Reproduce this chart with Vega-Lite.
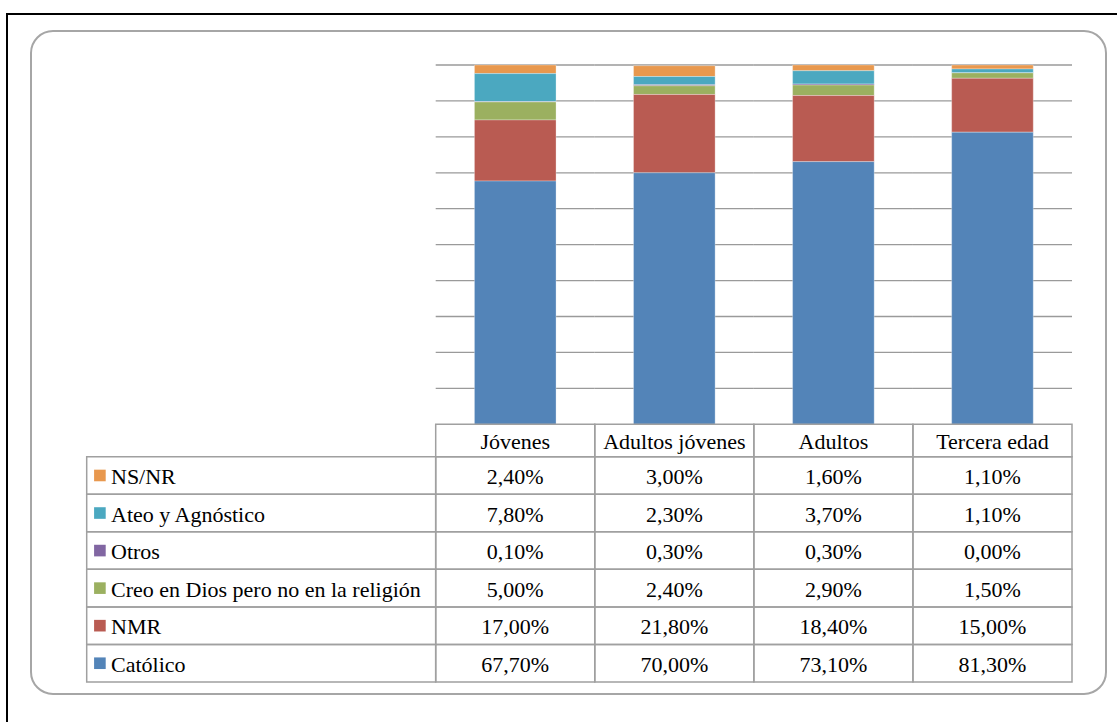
{
  "$schema": "https://vega.github.io/schema/vega-lite/v6.json",
  "width": 1117,
  "height": 722,
  "padding": 0,
  "autosize": {"type": "none"},
  "background": "white",
  "config": {
    "view": {"stroke": null},
    "locale": {"number": {"decimal": ",", "thousands": ".", "grouping": [3], "currency": ["", " €"]}}
  },
  "datasets": {
    "datos": [
      {"grupo": "Jóvenes", "serie": "NS/NR", "v": 0.024, "k": 6},
      {"grupo": "Jóvenes", "serie": "Ateo y Agnóstico", "v": 0.078, "k": 5},
      {"grupo": "Jóvenes", "serie": "Otros", "v": 0.001, "k": 4},
      {"grupo": "Jóvenes", "serie": "Creo en Dios pero no en la religión", "v": 0.05, "k": 3},
      {"grupo": "Jóvenes", "serie": "NMR", "v": 0.17, "k": 2},
      {"grupo": "Jóvenes", "serie": "Católico", "v": 0.677, "k": 1},
      {"grupo": "Adultos jóvenes", "serie": "NS/NR", "v": 0.03, "k": 6},
      {"grupo": "Adultos jóvenes", "serie": "Ateo y Agnóstico", "v": 0.023, "k": 5},
      {"grupo": "Adultos jóvenes", "serie": "Otros", "v": 0.003, "k": 4},
      {"grupo": "Adultos jóvenes", "serie": "Creo en Dios pero no en la religión", "v": 0.024, "k": 3},
      {"grupo": "Adultos jóvenes", "serie": "NMR", "v": 0.218, "k": 2},
      {"grupo": "Adultos jóvenes", "serie": "Católico", "v": 0.70, "k": 1},
      {"grupo": "Adultos", "serie": "NS/NR", "v": 0.016, "k": 6},
      {"grupo": "Adultos", "serie": "Ateo y Agnóstico", "v": 0.037, "k": 5},
      {"grupo": "Adultos", "serie": "Otros", "v": 0.003, "k": 4},
      {"grupo": "Adultos", "serie": "Creo en Dios pero no en la religión", "v": 0.029, "k": 3},
      {"grupo": "Adultos", "serie": "NMR", "v": 0.184, "k": 2},
      {"grupo": "Adultos", "serie": "Católico", "v": 0.731, "k": 1},
      {"grupo": "Tercera edad", "serie": "NS/NR", "v": 0.011, "k": 6},
      {"grupo": "Tercera edad", "serie": "Ateo y Agnóstico", "v": 0.011, "k": 5},
      {"grupo": "Tercera edad", "serie": "Otros", "v": 0.0, "k": 4},
      {"grupo": "Tercera edad", "serie": "Creo en Dios pero no en la religión", "v": 0.015, "k": 3},
      {"grupo": "Tercera edad", "serie": "NMR", "v": 0.15, "k": 2},
      {"grupo": "Tercera edad", "serie": "Católico", "v": 0.813, "k": 1}
    ],
    "rejilla": [
      {"grupo": "Jóvenes", "p": [0.1, 0.2, 0.3, 0.4, 0.5, 0.6, 0.7, 0.8, 0.9, 1.0]},
      {"grupo": "Adultos jóvenes", "p": [0.1, 0.2, 0.3, 0.4, 0.5, 0.6, 0.7, 0.8, 0.9, 1.0]},
      {"grupo": "Adultos", "p": [0.1, 0.2, 0.3, 0.4, 0.5, 0.6, 0.7, 0.8, 0.9, 1.0]},
      {"grupo": "Tercera edad", "p": [0.1, 0.2, 0.3, 0.4, 0.5, 0.6, 0.7, 0.8, 0.9, 1.0]}
    ]
  },
  "layer": [
    {
      "data": {"values": [{}]},
      "mark": {"type": "rect", "filled": false, "stroke": "#000000", "strokeWidth": 2},
      "encoding": {
        "x": {"datum": 0, "type": "quantitative", "scale": {"domain": [0, 1], "range": [7, 1160], "nice": false}, "axis": null},
        "x2": {"datum": 1},
        "y": {"datum": 0, "type": "quantitative", "scale": {"domain": [0, 1], "range": [14, 760], "nice": false}, "axis": null},
        "y2": {"datum": 1}
      }
    },
    {
      "data": {"values": [{}]},
      "mark": {"type": "rect", "filled": false, "stroke": "#a6a6a6", "strokeWidth": 2, "cornerRadius": 22},
      "encoding": {
        "x": {"datum": 0, "type": "quantitative", "scale": {"domain": [0, 1], "range": [31, 1106], "nice": false}, "axis": null},
        "x2": {"datum": 1},
        "y": {"datum": 0, "type": "quantitative", "scale": {"domain": [0, 1], "range": [31, 694], "nice": false}, "axis": null},
        "y2": {"datum": 1}
      }
    },
    {
      "data": {"name": "datos"},
      "transform": [{"filter": "datum.grupo == 'Jóvenes'"}],
      "encoding": {
        "y": {
          "field": "serie", "type": "nominal",
          "scale": {"domain": ["NS/NR", "Ateo y Agnóstico", "Otros", "Creo en Dios pero no en la religión", "NMR", "Católico"], "range": [456.7, 682], "paddingInner": 0, "paddingOuter": 0},
          "axis": null
        }
      },
      "layer": [
        {
          "mark": {"type": "rect", "filled": false, "stroke": "#a0a0a0", "strokeWidth": 1.5},
          "encoding": {
            "x": {"datum": 0, "type": "quantitative", "scale": {"domain": [0, 1], "range": [86.7, 435.7], "nice": false}, "axis": null},
            "x2": {"datum": 1}
          }
        },
        {
          "mark": {"type": "square", "size": 135, "opacity": 1},
          "encoding": {
            "x": {"datum": 0.0378, "type": "quantitative"},
            "color": {
              "field": "serie", "type": "nominal",
              "scale": {"domain": ["NS/NR", "Ateo y Agnóstico", "Otros", "Creo en Dios pero no en la religión", "NMR", "Católico"], "range": ["#e8984e", "#4ba8c0", "#8166a2", "#9bb060", "#b95b52", "#5384b8"]},
              "legend": null
            }
          }
        },
        {
          "mark": {"type": "text", "align": "left", "baseline": "middle", "font": "Liberation Serif", "fontSize": 22, "dy": 1.5, "color": "#000000"},
          "encoding": {
            "x": {"datum": 0.0696, "type": "quantitative"},
            "text": {"field": "serie"}
          }
        }
      ]
    },
    {
      "data": {"name": "datos"},
      "encoding": {
        "x": {
          "field": "grupo", "type": "nominal",
          "scale": {"domain": ["Jóvenes", "Adultos jóvenes", "Adultos", "Tercera edad"], "range": [435.7, 1072], "paddingInner": 0, "paddingOuter": 0},
          "axis": null
        }
      },
      "layer": [
        {
          "layer": [
            {
              "data": {"name": "rejilla"},
              "transform": [{"flatten": ["p"]}],
              "mark": {"type": "rect", "filled": false, "stroke": "#9a9a9a", "strokeWidth": 1.3},
              "encoding": {
                "y": {"field": "p", "type": "quantitative", "scale": {"domain": [0, 1], "range": [424.3, 65], "nice": false}, "axis": null},
                "y2": {"field": "p"}
              }
            },
            {
              "mark": {"type": "bar", "width": {"band": 0.513}, "stroke": "#ffffff", "strokeWidth": 0.5, "strokeOpacity": 0.6},
              "encoding": {
                "y": {"field": "v", "type": "quantitative", "stack": "zero", "scale": {"domain": [0, 1], "range": [424.3, 65], "nice": false}, "axis": null},
                "color": {"field": "serie", "type": "nominal", "legend": null},
                "order": {"field": "k", "type": "quantitative"}
              }
            }
          ]
        },
        {
          "transform": [{"filter": "datum.serie == 'Católico'"}],
          "encoding": {
            "y": {"datum": "hdr", "type": "nominal", "scale": {"domain": ["hdr"], "range": [424.3, 456.7], "paddingInner": 0, "paddingOuter": 0}, "axis": null}
          },
          "layer": [
            {"mark": {"type": "rect", "filled": false, "stroke": "#a0a0a0", "strokeWidth": 1.5}},
            {
              "mark": {"type": "text", "align": "center", "baseline": "middle", "font": "Liberation Serif", "fontSize": 22, "dy": 1, "color": "#000000"},
              "encoding": {"text": {"field": "grupo"}}
            }
          ]
        },
        {
          "encoding": {
            "y": {
              "field": "serie", "type": "nominal",
              "scale": {"domain": ["NS/NR", "Ateo y Agnóstico", "Otros", "Creo en Dios pero no en la religión", "NMR", "Católico"], "range": [456.7, 682], "paddingInner": 0, "paddingOuter": 0},
              "axis": null
            }
          },
          "layer": [
            {"mark": {"type": "rect", "filled": false, "stroke": "#a0a0a0", "strokeWidth": 1.5}},
            {
              "mark": {"type": "text", "align": "center", "baseline": "middle", "font": "Liberation Serif", "fontSize": 22, "dy": 1.5, "color": "#000000"},
              "encoding": {"text": {"field": "v", "type": "quantitative", "format": ".2%"}}
            }
          ]
        }
      ],
      "resolve": {"scale": {"y": "independent"}}
    }
  ],
  "resolve": {"scale": {"x": "independent", "y": "independent", "color": "shared"}}
}
